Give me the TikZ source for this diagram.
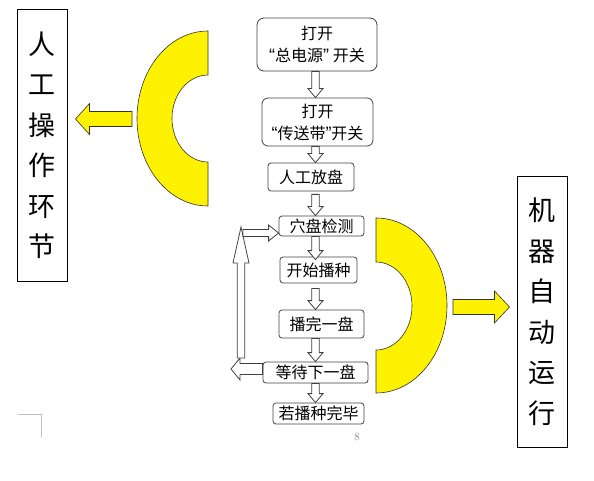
\documentclass[tikz,border=0pt]{standalone}
\usepackage{fontspec}
\newfontfamily\cjk{Noto Sans CJK SC}
\newfontfamily\quotefont{Liberation Sans}
\usetikzlibrary{calc}

% block arrow from #2 to #3: shaft half width #4, head half width #5, head length #6
\newcommand{\barrow}[6][blockarrow]{%
  \coordinate (ba-s) at (#2);
  \coordinate (ba-t) at (#3);
  \coordinate (ba-h) at ($(ba-t)!#6!(ba-s)$);
  \draw[#1] ($(ba-s)!#4!90:(ba-t)$) -- ($(ba-h)!#4!-90:(ba-s)$) -- ($(ba-h)!#5!-90:(ba-s)$)
    -- (ba-t) -- ($(ba-h)!#5!90:(ba-s)$) -- ($(ba-h)!#4!90:(ba-s)$) -- ($(ba-s)!#4!-90:(ba-t)$) -- cycle;}
\newcommand{\oq}{{\quotefont\fontsize{18}{18}\selectfont “}}
\newcommand{\cq}{{\quotefont\fontsize{18}{18}\selectfont ”}}

\tikzset{
  flowbox/.style={draw=black!75, line width=0.8pt, rounded corners=3pt, inner sep=0pt,
    align=center, font=\cjk\fontsize{16}{22}\selectfont},
  twoline/.style={font=\cjk\fontsize{16}{22}\selectfont},
  sidebox/.style={draw, line width=1pt, inner sep=0pt, align=center,
    font=\cjk\fontsize{27}{40.5}\selectfont},
  blockarrow/.style={draw=black!75, fill=white, line width=0.8pt},
  yarrow/.style={draw=black!80, fill=yellow, line width=0.6pt},
  band/.style={draw=black!80, fill=yellow, line width=0.6pt},
}

\begin{document}
\begin{tikzpicture}[x=1pt, y=-1pt]
  \useasboundingbox (0,0) rectangle (594,481);
  \coordinate (spine) at (315.5,0);

  % flow boxes
  \node[flowbox, twoline, minimum width=120, minimum height=53, rounded corners=7pt] (b1) at (317,44.5) {打开\\\oq 总电源\cq\ 开关};
  \node[flowbox, twoline, minimum width=111, minimum height=48, rounded corners=6pt] (b2) at (317.5,122) {打开\\\oq 传送带\cq 开关};
  \node[flowbox, minimum width=86, minimum height=28] (b3) at (311,177) {人工放盘};
  \node[flowbox, minimum width=85, minimum height=20] (b4) at (321.5,226) {穴盘检测};
  \node[flowbox, minimum width=77, minimum height=26] (b5) at (318.5,270) {开始播种};
  \node[flowbox, minimum width=85, minimum height=28] (b6) at (321.5,324) {播完一盘};
  \node[flowbox, minimum width=105, minimum height=21] (b7) at (315.5,372.5) {等待下一盘};
  \node[flowbox, minimum width=91, minimum height=21] (b8) at (318.5,413.5) {若播种完毕};

  % arrows along the flow
  \barrow{b1.south -| spine}{b2.north -| spine}{3.75pt}{7.5pt}{9pt}
  \barrow{b2.south -| spine}{b3.north -| spine}{3.75pt}{7.5pt}{9pt}
  \barrow{$(b3.south -| spine)+(0,3)$}{b4.north -| spine}{3.75pt}{7.5pt}{9pt}
  \barrow{b4.south -| spine}{$(b5.north -| spine)+(0,3)$}{3.75pt}{7.5pt}{9pt}
  \barrow{$(b5.south -| spine)+(0,5)$}{b6.north -| spine}{3.75pt}{7.5pt}{9pt}
  \barrow{b6.south -| spine}{b7.north -| spine}{3.75pt}{7.5pt}{9pt}
  \barrow{b7.south -| spine}{b8.north -| spine}{3.75pt}{7.5pt}{9pt}

  % loop back to the tray check
  \coordinate (loopleft) at (231,369);
  \coordinate (loopbot) at (241,358);
  \coordinate (looptop) at (241,227);
  \coordinate (loopturn) at (243,233);
  \barrow{b7.west |- loopleft}{loopleft}{5.5pt}{11pt}{9pt}
  \barrow{loopbot}{looptop}{3.75pt}{8pt}{36pt}
  \barrow{loopturn}{b4.west |- loopturn}{3.5pt}{8pt}{10pt}

  % side boxes
  \node[sidebox, minimum width=50, minimum height=271] (manual) at (42,145.5) {人\\工\\操\\作\\环\\节};
  \node[sidebox, minimum width=50, minimum height=270] (auto) at (542,312) {机\\器\\自\\动\\运\\行};

  % yellow half rings
  \draw[band] (208,31) arc[start angle=90, end angle=270, x radius=71pt, y radius=87.5pt]
    -- (208,162) arc[start angle=270, end angle=90, x radius=36pt, y radius=43.5pt] -- cycle;
  \draw[band] (376,218) arc[start angle=90, end angle=-90, x radius=71pt, y radius=87.5pt]
    -- (376,350) arc[start angle=-90, end angle=90, x radius=36pt, y radius=44pt] -- cycle;
  \coordinate (lband) at (132,119);
  \coordinate (rband) at (453,307);
  \barrow[yarrow]{lband}{$(manual.east |- lband)+(8,0)$}{7.5pt}{15.5pt}{14pt}
  \barrow[yarrow]{rband}{$(auto.west |- rband)+(-7,0)$}{7.5pt}{16pt}{15pt}

  % page marks
  \node[font=\fontsize{11}{11}\selectfont, text=black!50] (pagenum) at (357,437) {8};
  \draw[black!25] (18,414) -- (41,414) -- (41,437);
\end{tikzpicture}
\end{document}
